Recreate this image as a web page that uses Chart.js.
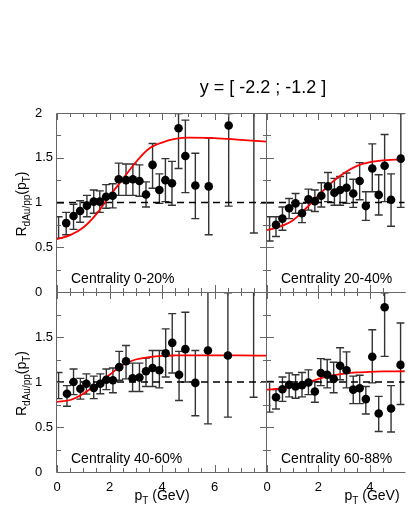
<!DOCTYPE html>
<html>
<head>
<meta charset="utf-8">
<script src="https://cdn.jsdelivr.net/npm/chart.js@4.4.1/dist/chart.umd.min.js"></script>
<style>
  html, body { margin: 0; padding: 0; background: #fff; }
  #wrap { position: relative; width: 409px; height: 529px; overflow: hidden; }
  canvas { position: absolute; left: 0; top: 0; }
</style>
</head>
<body>
<div id="wrap">
  <canvas id="c1" width="409" height="529"></canvas>
  <canvas id="c2" width="409" height="529"></canvas>
  <canvas id="c3" width="409" height="529"></canvas>
  <canvas id="c4" width="409" height="529"></canvas>
</div>
<script>
// centrality 0-20%
var pt_0_20 = [0.06, 0.35, 0.63, 0.88, 1.14, 1.40, 1.63, 1.87, 2.12, 2.35, 2.63, 2.89, 3.14, 3.39, 3.64, 3.90, 4.13, 4.38, 4.63, 4.89, 5.27, 5.78, 6.54, 7.50];
var r_0_20  = [null, 0.77, 0.85, 0.905, 0.965, 1.01, 1.01, 1.065, 1.075, 1.26, 1.25, 1.26, 1.24, 1.09, 1.42, 1.14, 1.25, 1.215, 1.83, 1.52, 1.19, 1.18, 1.86, null];
var lo_0_20 = [0.60, 0.64, 0.70, 0.78, 0.84, 0.88, 0.89, 0.935, 0.94, 1.08, 1.08, 1.08, 1.07, 0.95, 1.16, 0.99, 1.01, 0.97, 1.38, 1.11, 0.82, 0.64, 0.96, 0.66];
var hi_0_20 = [0.84, 0.89, 0.98, 1.02, 1.08, 1.14, 1.13, 1.20, 1.21, 1.44, 1.43, 1.43, 1.42, 1.23, 1.66, 1.32, 1.49, 1.46, 1.995, 1.92, 1.55, 1.72, 1.995, 2.3];

// centrality 20-40%
var pt_20_40 = [0.10, 0.35, 0.60, 0.86, 1.11, 1.36, 1.61, 1.86, 2.11, 2.37, 2.62, 2.84, 3.09, 3.35, 3.60, 3.84, 4.09, 4.34, 4.57, 4.82, 5.20];
var r_20_40  = [null, 0.75, 0.82, 0.935, 0.99, 0.88, 1.035, 1.015, 1.075, 1.18, 1.11, 1.14, 1.165, 1.10, 1.24, 0.96, 1.38, 1.085, 1.41, 1.03, 1.49];
var lo_20_40 = [0.57, 0.62, 0.69, 0.82, 0.88, 0.775, 0.915, 0.90, 0.95, 1.01, 0.97, 0.97, 0.99, 0.945, 1.03, 0.80, 1.12, 0.86, 1.01, 0.735, 0.945];
var hi_20_40 = [0.84, 0.84, 0.95, 1.045, 1.10, 0.99, 1.15, 1.14, 1.22, 1.335, 1.27, 1.29, 1.33, 1.26, 1.445, 1.12, 1.655, 1.31, 1.76, 1.32, 1.995];

// centrality 40-60%
var pt_40_60 = [0.06, 0.38, 0.63, 0.89, 1.12, 1.40, 1.65, 1.88, 2.13, 2.37, 2.63, 2.88, 3.14, 3.39, 3.64, 3.90, 4.14, 4.39, 4.65, 4.89, 5.27, 5.75, 6.51, 7.49];
var r_40_60  = [null, 0.87, 1.0, 0.925, 0.98, 0.935, 0.98, 1.025, 1.02, 1.165, 1.23, 1.04, 1.05, 1.12, 1.155, 1.13, 1.32, 1.435, 1.08, 1.365, 0.99, 1.35, 1.295, null];
var lo_40_60 = [0.815, 0.73, 0.86, 0.81, 0.865, 0.815, 0.87, 0.915, 0.88, 1.02, 1.035, 0.895, 0.895, 0.95, 0.95, 0.935, 1.055, 1.10, 0.795, 1.0, 0.625, 0.535, 0.61, 0.83];
var hi_40_60 = [1.105, 0.96, 1.145, 1.04, 1.09, 1.065, 1.09, 1.145, 1.155, 1.34, 1.405, 1.21, 1.21, 1.265, 1.35, 1.35, 1.59, 1.76, 1.34, 1.775, 1.35, 2.2, 1.99, 2.3];

// centrality 60-88%
var pt_60_88 = [0.10, 0.35, 0.60, 0.86, 1.11, 1.36, 1.61, 1.86, 2.09, 2.34, 2.59, 2.84, 3.09, 3.35, 3.60, 3.84, 4.09, 4.34, 4.57, 4.82, 5.19];
var r_60_88  = [null, 0.83, 0.92, 0.97, 0.95, 0.965, 0.995, 0.895, 1.10, 1.08, 1.035, 1.18, 1.13, 0.915, 0.93, 0.81, 1.28, 0.65, 1.83, 0.705, 1.19];
var lo_60_88 = [0.665, 0.70, 0.785, 0.835, 0.82, 0.835, 0.86, 0.775, 0.96, 0.935, 0.88, 1.025, 0.935, 0.76, 0.76, 0.645, 0.99, 0.45, 1.285, 0.445, 0.75];
var hi_60_88 = [1.005, 0.915, 1.055, 1.10, 1.08, 1.105, 1.135, 1.005, 1.26, 1.25, 1.22, 1.38, 1.335, 1.065, 1.075, 0.95, 1.58, 0.84, 1.99, 0.96, 1.655];

// red fit curves
var fitPtLeft  = [0, 0.5, 1, 1.5, 2, 2.5, 3, 3.5, 4, 4.5, 5, 6, 7, 8];
var fit_0_20   = [0.59, 0.635, 0.72, 0.87, 1.07, 1.26, 1.45, 1.6, 1.67, 1.71, 1.725, 1.72, 1.70, 1.68];
var fit_40_60  = [0.78, 0.80, 0.87, 0.97, 1.08, 1.19, 1.25, 1.275, 1.29, 1.295, 1.296, 1.296, 1.295, 1.293];
var fitPtRight = [0, 0.5, 1, 1.5, 2, 2.5, 3, 3.5, 4, 4.5, 5, 5.5];
var fit_20_40  = [0.69, 0.73, 0.80, 0.93, 1.08, 1.22, 1.33, 1.41, 1.45, 1.47, 1.48, 1.48];
var fit_60_88  = [0.915, 0.925, 0.95, 0.985, 1.035, 1.07, 1.093, 1.106, 1.113, 1.117, 1.119, 1.12];

var refLevel = 1;

var xTicksLeft  = [0, 2, 4, 6];
var xTicksRight = [0, 2, 4];
var yTicksTop    = [0, 0.5, 1, 1.5, 2];
var yTicksBottom = [0, 0.5, 1, 1.5];

var FONT = '"Liberation Sans", Arial, Helvetica, sans-serif';
Chart.defaults.font.family = FONT;

function toXY(xs, ys) {
    return xs.map(function (x, i) { return { x: x, y: ys[i] }; });
}

// text with subscripts: parts = [[text, isSub], ...]
function richText(ctx, parts, cx, y, size) {
    var w = 0;
    parts.forEach(function (p) {
        ctx.font = (p[1] ? size - 4 : size) + 'px ' + FONT;
        w += ctx.measureText(p[0]).width;
    });
    var x = cx - w / 2;
    ctx.textAlign = 'left';
    ctx.textBaseline = 'alphabetic';
    parts.forEach(function (p) {
        ctx.font = (p[1] ? size - 4 : size) + 'px ' + FONT;
        ctx.fillText(p[0], x, p[1] ? y + 4 : y);
        x += ctx.measureText(p[0]).width;
    });
}

function makePanel(id, p) {
    var panelPlugin = {
        id: 'panel' + id,
        beforeDatasetsDraw: function (chart) {
            var ctx = chart.ctx, a = chart.chartArea;
            var xs = chart.scales.x, ys = chart.scales.y;
            ctx.save();
            ctx.beginPath();
            ctx.rect(a.left, a.top, a.right - a.left, a.bottom - a.top);
            ctx.clip();
            ctx.strokeStyle = '#333';
            ctx.lineWidth = 1.4;
            ctx.beginPath();
            p.pt.forEach(function (x, i) {
                var X = xs.getPixelForValue(x);
                var Y1 = ys.getPixelForValue(p.lo[i]);
                var Y2 = ys.getPixelForValue(p.hi[i]);
                ctx.moveTo(X, Y1); ctx.lineTo(X, Y2);
                ctx.moveTo(X - 4, Y1); ctx.lineTo(X + 4, Y1);
                ctx.moveTo(X - 4, Y2); ctx.lineTo(X + 4, Y2);
            });
            ctx.stroke();
            ctx.restore();
        },
        afterDraw: function (chart) {
            var ctx = chart.ctx, a = chart.chartArea;
            var xs = chart.scales.x, ys = chart.scales.y;
            ctx.save();
            ctx.strokeStyle = '#666';
            ctx.lineWidth = 1;
            ctx.beginPath();
            xs.ticks.forEach(function (t) {
                if (Math.abs(t.value * 2 - Math.round(t.value * 2)) > 1e-6) return;
                var X = Math.round(xs.getPixelForValue(t.value)) + 0.5;
                var len = (t.value % 2 === 0) ? 7 : 4;
                ctx.moveTo(X, a.bottom); ctx.lineTo(X, a.bottom - len);
                ctx.moveTo(X, a.top); ctx.lineTo(X, a.top + len);
            });
            ys.ticks.forEach(function (t) {
                var Y = Math.round(ys.getPixelForValue(t.value)) + 0.5;
                var len = (Math.abs(t.value * 2 - Math.round(t.value * 2)) < 1e-6) ? 7 : 4;
                ctx.moveTo(a.left, Y); ctx.lineTo(a.left + len, Y);
                if (p.frameRight) { ctx.moveTo(a.right, Y); ctx.lineTo(a.right - len, Y); }
            });
            var L = Math.round(a.left) - 0.5, T = Math.round(a.top) + 0.5;
            var B = Math.round(a.bottom) + 0.5, R = Math.round(a.right) - 0.5;
            ctx.moveTo(R + 1, T); ctx.lineTo(L, T); ctx.lineTo(L, B); ctx.lineTo(R + 1, B);
            if (p.frameRight) { ctx.moveTo(R, T); ctx.lineTo(R, B); }
            ctx.stroke();

            ctx.fillStyle = '#000';
            ctx.font = '14px ' + FONT;
            ctx.textAlign = 'left';
            ctx.textBaseline = 'alphabetic';
            ctx.fillText(p.label, a.left + 14, a.bottom - 9);

            if (p.left) {
                ctx.save();
                ctx.translate(26, (a.top + a.bottom) / 2 + 1.5);
                ctx.rotate(-Math.PI / 2);
                richText(ctx, [['R', false], ['dAu/pp', true], ['(p', false], ['T', true], [')', false]], 0, 0, 14);
                ctx.restore();
            }
            if (p.bottom) {
                richText(ctx, [['p', false], ['T', true], [' (GeV)', false]], a.left + 105, 500, 14);
            }
            if (p.title) {
                ctx.font = '18px ' + FONT;
                ctx.textAlign = 'center';
                ctx.fillText(p.title, 263, 92.5);
            }
            ctx.restore();
        }
    };

    return new Chart(document.getElementById(id).getContext('2d'), {
        type: 'line',
        data: {
            datasets: [{
                data: toXY(p.pt, p.r),
                showLine: false,
                pointRadius: 4.3,
                pointBackgroundColor: '#000',
                pointBorderWidth: 0,
                order: 0
            }, {
                data: toXY(p.fitPt, p.fit),
                borderColor: '#ff0000',
                borderWidth: 1.8,
                pointRadius: 0,
                cubicInterpolationMode: 'monotone',
                clip: 0,
                order: 1
            }, {
                data: [{ x: 0, y: refLevel }, { x: p.xMax, y: refLevel }],
                borderColor: '#000',
                borderWidth: 1.6,
                borderDash: [7, 5],
                pointRadius: 0,
                order: 2
            }]
        },
        options: {
            responsive: false,
            animation: false,
            events: [],
            layout: { padding: p.pad },
            plugins: { legend: { display: false }, tooltip: { enabled: false } },
            scales: {
                x: {
                    type: 'linear', min: 0, max: p.xMax,
                    grid: { display: false }, border: { display: false },
                    ticks: {
                        display: p.bottom, stepSize: 0.5, padding: 0, autoSkip: false, maxRotation: 0,
                        color: '#000', font: { size: 13 },
                        callback: function (v) { return p.xLabels.indexOf(v) >= 0 ? String(v) : ''; }
                    },
                    afterFit: function (s) { s.height = p.bottom ? 40 : 0; }
                },
                y: {
                    type: 'linear', min: 0, max: 2,
                    grid: { display: false }, border: { display: false },
                    ticks: {
                        display: p.left, stepSize: 0.25, padding: 0, crossAlign: 'far', autoSkip: false,
                        color: '#000', font: { size: 13 },
                        callback: function (v) { return p.yLabels.indexOf(v) >= 0 ? String(v) : ''; }
                    },
                    afterFit: function (s) { s.width = p.left ? 22 : 0; }
                }
            }
        },
        plugins: [panelPlugin]
    });
}

var chart1 = makePanel('c1', {
    pt: pt_0_20, r: r_0_20, lo: lo_0_20, hi: hi_0_20, fitPt: fitPtLeft, fit: fit_0_20,
    label: 'Centrality 0-20%', xMax: 8, xLabels: xTicksLeft, yLabels: yTicksTop,
    left: true, bottom: false, frameRight: true, title: 'y = [ -2.2 ; -1.2 ]',
    pad: { left: 35, top: 113, right: 142, bottom: 237 }
});
var chart2 = makePanel('c2', {
    pt: pt_20_40, r: r_20_40, lo: lo_20_40, hi: hi_20_40, fitPt: fitPtRight, fit: fit_20_40,
    label: 'Centrality 20-40%', xMax: 5.35, xLabels: xTicksRight, yLabels: yTicksTop,
    left: false, bottom: false, frameRight: false,
    pad: { left: 267, top: 113, right: 0, bottom: 237 }
});
var chart3 = makePanel('c3', {
    pt: pt_40_60, r: r_40_60, lo: lo_40_60, hi: hi_40_60, fitPt: fitPtLeft, fit: fit_40_60,
    label: 'Centrality 40-60%', xMax: 8, xLabels: xTicksLeft, yLabels: yTicksBottom,
    left: true, bottom: true, frameRight: true,
    pad: { left: 35, top: 292, right: 142, bottom: 17 }
});
var chart4 = makePanel('c4', {
    pt: pt_60_88, r: r_60_88, lo: lo_60_88, hi: hi_60_88, fitPt: fitPtRight, fit: fit_60_88,
    label: 'Centrality 60-88%', xMax: 5.35, xLabels: xTicksRight, yLabels: yTicksBottom,
    left: false, bottom: true, frameRight: false,
    pad: { left: 267, top: 292, right: 0, bottom: 17 }
});
</script>
</body>
</html>
